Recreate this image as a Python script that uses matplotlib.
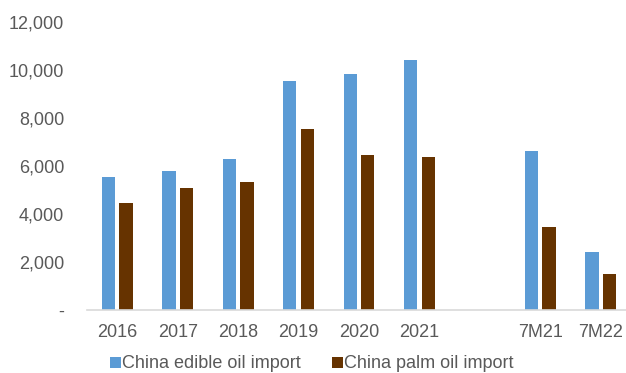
import numpy as np
import matplotlib
matplotlib.use("Agg")
import matplotlib.pyplot as plt
from matplotlib.ticker import FuncFormatter

plt.rcParams['font.family'] = ['Liberation Sans', 'DejaVu Sans']

# Import volumes (thousand tonnes); the blank category leaves a gap before the YTD bars
categories = ["2016", "2017", "2018", "2019", "2020", "2021", "", "7M21", "7M22"]
edible_oil = [5530, 5790, 6280, 9540, 9830, 10400, np.nan, 6625, 2400]
palm_oil = [4470, 5070, 5320, 7540, 6460, 6375, np.nan, 3445, 1500]
series_names = ["China edible oil import", "China palm oil import"]

BLUE = "#5B9BD5"
BROWN = "#663300"
GRAY_TEXT = "#595959"

fig = plt.figure(figsize=(6.26, 3.73), dpi=100)
W, H = 626, 373
left, right = 87, 631
bottom, top = 310, 22
ax = fig.add_axes([left / W, (H - bottom) / H, (right - left) / W, (bottom - top) / H])

x = np.arange(len(categories))
bw = 0.22
off = 0.145
b1 = ax.bar(x - off, edible_oil, width=bw, color=BLUE, label=series_names[0])
b2 = ax.bar(x + off, palm_oil, width=bw, color=BROWN, label=series_names[1])

ax.set_xlim(-0.5, len(categories) - 0.5)
ax.set_ylim(0, 12000)
ax.set_yticks(np.arange(0, 12001, 2000))
ax.yaxis.set_major_formatter(FuncFormatter(lambda v, p: "-" if v == 0 else f"{int(v):,}"))
ax.set_xticks(x)
ax.set_xticklabels(categories)

for s in ["top", "right", "left"]:
    ax.spines[s].set_visible(False)
ax.spines["bottom"].set_color("#D9D9D9")
ax.spines["bottom"].set_linewidth(1.2)

ax.tick_params(axis="both", length=0, labelsize=13, colors=GRAY_TEXT)
ax.tick_params(axis="x", pad=10)
ax.tick_params(axis="y", pad=16.5)

leg = fig.legend(handles=[b1, b2], loc="center", bbox_to_anchor=(312 / W, 9 / H),
                 ncol=2, frameon=False, fontsize=13, handlelength=0.58, handleheight=0.58,
                 handletextpad=0.08, columnspacing=1.75, borderaxespad=0, borderpad=0)
for t in leg.get_texts():
    t.set_color(GRAY_TEXT)

fig.savefig("out.png", dpi=100)
